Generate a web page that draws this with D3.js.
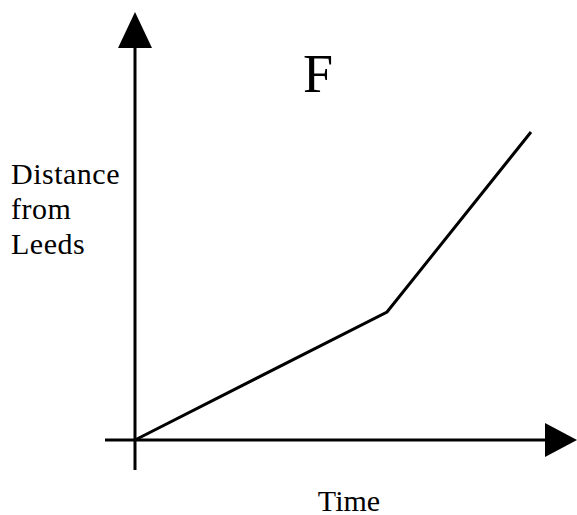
<!DOCTYPE html>
<html><head><meta charset="utf-8">
<script src="https://cdn.jsdelivr.net/npm/d3@7"></script>
<style>body{margin:0;background:#fff}</style>
</head><body><div id="chart"></div>
<script>
// journey F: time vs distance from Leeds (arbitrary units)
const times = [0, 6.3, 9.9];
const distances = [0, 3.2, 7.7];
const labels = { title: "F", x: "Time", y: ["Distance", "from", "Leeds"] };

const W = 577, H = 515;
const svg = d3.select("#chart").append("svg").attr("width", W).attr("height", H);

const x = d3.scaleLinear().domain([0, 10]).range([135, 535]);
const y = d3.scaleLinear().domain([0, 10]).range([440, 40]);

const serif = "'Liberation Serif', 'DejaVu Serif', serif";

// axes
svg.append("line").attr("x1", 105).attr("x2", 548).attr("y1", y(0)).attr("y2", y(0))
  .attr("stroke", "#000").attr("stroke-width", 3);
svg.append("line").attr("x1", x(0)).attr("x2", x(0)).attr("y1", 470).attr("y2", 45)
  .attr("stroke", "#000").attr("stroke-width", 3);

// arrow heads
svg.append("path").attr("d", "M577,440 L545,423 L545,457 Z").attr("fill", "#000");
svg.append("path").attr("d", "M135,12 L118,48 L152,48 Z").attr("fill", "#000");

// the journey
const line = d3.line().x((d, i) => x(times[i])).y(d => y(d));
svg.append("path").datum(distances).attr("d", line)
  .attr("fill", "none").attr("stroke", "#000").attr("stroke-width", 3);

svg.append("text").attr("x", 318).attr("y", 92).attr("text-anchor", "middle")
  .style("font-family", serif).style("font-size", "54px").text(labels.title);

svg.append("text").attr("x", 349).attr("y", 511).attr("text-anchor", "middle")
  .style("font-family", serif).style("font-size", "30px").text(labels.x);

labels.y.forEach((t, i) => {
  svg.append("text").attr("x", 11).attr("y", 184 + i * 35)
    .style("font-family", serif).style("font-size", "30px")
    .style("letter-spacing", "0.5px").text(t);
});
</script></body></html>
